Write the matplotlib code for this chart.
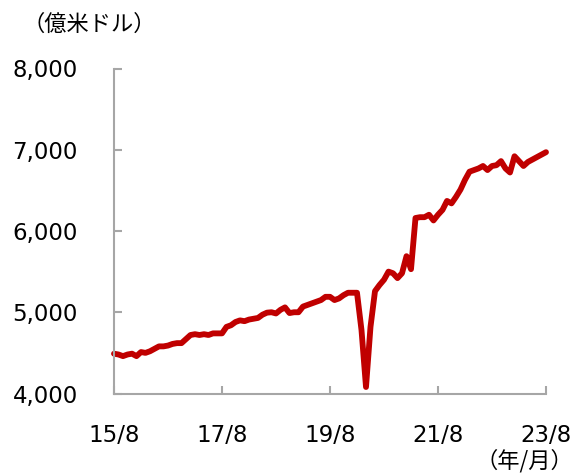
import matplotlib
matplotlib.use("Agg")
import matplotlib.pyplot as plt
import numpy as np

# Monthly values, 2015/8 .. 2023/8 (億米ドル)
values = [
    4490, 4480, 4460, 4480, 4490, 4460, 4510, 4500, 4520, 4550,
    4580, 4580, 4590, 4610, 4620, 4620, 4670, 4720, 4730, 4720,
    4730, 4720, 4740, 4740, 4740, 4820, 4840, 4880, 4900, 4890,
    4910, 4920, 4930, 4970, 4995, 5000, 4985, 5030, 5060, 4990,
    5000, 5000, 5070, 5090, 5110, 5130, 5150, 5190, 5190, 5150,
    5170, 5210, 5240, 5240, 5240, 4780, 4080, 4820, 5260, 5335,
    5400, 5500, 5480, 5420, 5480, 5690, 5530, 6160, 6170, 6170,
    6200, 6130, 6200, 6260, 6370, 6340, 6420, 6510, 6630, 6730,
    6750, 6770, 6800, 6750, 6800, 6810, 6860, 6770, 6720, 6920,
    6860, 6800, 6850, 6880, 6910, 6940, 6970,
]
tick_positions = [0, 24, 48, 72, 96]
tick_labels = ["15/8", "17/8", "19/8", "21/8", "23/8"]
y_ticks = [4000, 5000, 6000, 7000, 8000]
y_labels = ["4,000", "5,000", "6,000", "7,000", "8,000"]

plt.rcParams['font.family'] = ['DejaVu Sans', 'Noto Sans CJK JP']

fig = plt.figure(figsize=(5.73, 4.75), dpi=100)
ax = fig.add_axes([114/573, 1-393.5/475, (546-114)/573, (393.5-68.5)/475])

x = np.arange(len(values))
ax.plot(x, values, color="#C00000", lw=4.2, solid_joinstyle="round",
        solid_capstyle="round", clip_on=False)

ax.set_xlim(0, 96)
ax.set_ylim(4000, 8000)
ax.set_xticks(tick_positions)
ax.set_xticklabels(tick_labels)
ax.set_yticks(y_ticks)
ax.set_yticklabels(y_labels)

for s in ["top", "right"]:
    ax.spines[s].set_visible(False)
for s in ["left", "bottom"]:
    ax.spines[s].set_color("#A6A6A6")
    ax.spines[s].set_linewidth(1.5)

ax.tick_params(axis="both", direction="in", length=6, width=1.5,
               color="#A6A6A6", labelsize=16.5, labelcolor="black")
ax.tick_params(axis="y", pad=26)
ax.tick_params(axis="x", pad=22)

fig.text(89/573, 1-24/475, "（億米ドル）", ha="center", va="center",
         fontsize=16, family=["Noto Sans CJK JP", "DejaVu Sans"])
fig.text(573/573, 1-461/475, "（年/月）", ha="right", va="center",
         fontsize=16, family=["Noto Sans CJK JP", "DejaVu Sans"])

fig.savefig("out.png", dpi=100)
